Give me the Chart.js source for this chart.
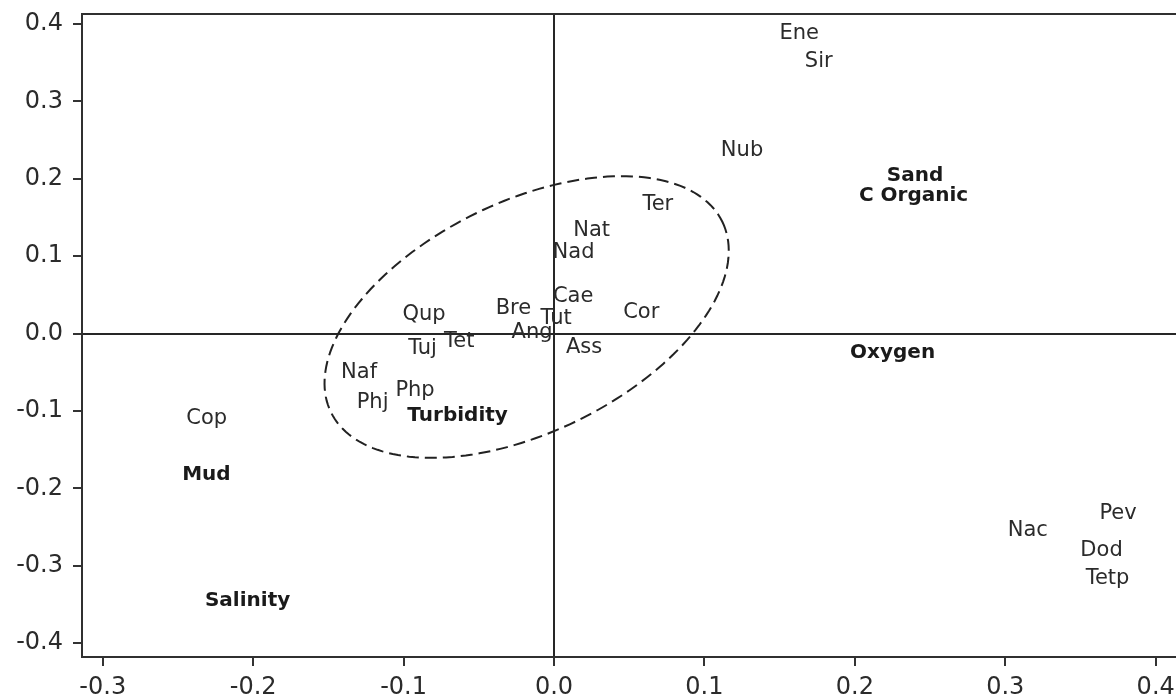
<!DOCTYPE html>
<html><head><meta charset="utf-8">
<script src="https://cdn.jsdelivr.net/npm/chart.js@4"></script>
<style>html,body{margin:0;padding:0;background:#fff;overflow:hidden}#wrap{width:1176px;height:700px}</style>
</head><body><div id="wrap"><canvas id="c" width="1176" height="700"></canvas></div>
<script>
// Species scores
const speciesNames = ['Ene','Sir','Nub','Ter','Nat','Nad','Cae','Cor','Bre','Tut','Ang','Ass','Qup','Tet','Tuj','Naf','Php','Phj','Cop','Nac','Pev','Dod','Tetp'];
const speciesX = [0.163,0.176,0.125,0.069,0.025,0.013,0.0127,0.058,-0.027,0.0014,-0.0146,0.020,-0.0864,-0.063,-0.0874,-0.1296,-0.0924,-0.1206,-0.2309,0.315,0.375,0.364,0.368];
const speciesY = [0.388,0.352,0.237,0.167,0.133,0.105,0.048,0.027,0.032,0.020,0.0014,-0.018,0.025,-0.010,-0.020,-0.050,-0.073,-0.089,-0.110,-0.254,-0.233,-0.280,-0.317];
// Environmental variables
const variableNames = ['Sand','C Organic','Oxygen','Turbidity','Mud','Salinity'];
const variableX = [0.240,0.239,0.2251,-0.0641,-0.2311,-0.2037];
const variableY = [0.204,0.178,-0.0244,-0.106,-0.183,-0.345];
// Axis ticks
const xTickValues = [-0.3,-0.2,-0.1,0,0.1,0.2,0.3,0.4];
const yTickValues = [-0.4,-0.3,-0.2,-0.1,0,0.1,0.2,0.3,0.4];
// Dashed group ellipse (data units: centre + conjugate semi-axis vectors)
const groupEllipse = {cx:-0.0182, cy:0.0214, ux:0.1301, uy:0.1231, vx:0.0336, vy:-0.1341};

const fmt = v => Number(v).toFixed(1);
const pts = (xs, ys) => xs.map((x,i)=>({x:x, y:ys[i]}));
const noPad = s => { s.paddingTop = 0; s.paddingBottom = 0; s.paddingLeft = 0; s.paddingRight = 0; };

const ellipsePlugin = {
  id:'ellipse',
  beforeDatasetsDraw(chart){
    const {ctx, scales:{x, y}} = chart;
    const e = groupEllipse;
    ctx.save();
    ctx.beginPath();
    const n = 180;
    for(let i=0;i<=n;i++){
      const t = i/n*2*Math.PI;
      const dx = e.cx + e.ux*Math.cos(t) + e.vx*Math.sin(t);
      const dy = e.cy + e.uy*Math.cos(t) + e.vy*Math.sin(t);
      const px = x.getPixelForValue(dx), py = y.getPixelForValue(dy);
      if(i===0) ctx.moveTo(px,py); else ctx.lineTo(px,py);
    }
    ctx.closePath();
    ctx.setLineDash([12,6]);
    ctx.lineWidth = 2;
    ctx.strokeStyle = '#222';
    ctx.stroke();
    ctx.restore();
  }
};

const labelPlugin = {
  id:'pointLabels',
  afterDatasetsDraw(chart){
    const {ctx} = chart;
    chart.data.datasets.forEach((ds, di)=>{
      const meta = chart.getDatasetMeta(di);
      ctx.save();
      ctx.font = ds.labelFont;
      ctx.fillStyle = ds.labelColor;
      ctx.textAlign = 'center';
      ctx.textBaseline = 'middle';
      meta.data.forEach((el, i)=>{
        ctx.fillText(ds.labels[i], el.x, el.y);
      });
      ctx.restore();
    });
  }
};

const tickFont = {family:'DejaVu Sans', size:24};
const zeroColor = c => (c.tick && Math.abs(c.tick.value) < 1e-9) ? '#262626' : 'rgba(0,0,0,0)';

new Chart(document.getElementById('c'), {
  type:'scatter',
  data:{datasets:[
    {label:'Species', data:pts(speciesX, speciesY), labels:speciesNames, labelFont:'21px "DejaVu Sans"', labelColor:'#2b2b2b', pointRadius:0},
    {label:'Variables', data:pts(variableX, variableY), labels:variableNames, labelFont:'bold 20px "DejaVu Sans"', labelColor:'#1a1a1a', pointRadius:0}
  ]},
  options:{
    responsive:false, animation:false, events:[],
    layout:{padding:0},
    plugins:{legend:{display:false}, tooltip:{enabled:false}},
    scales:{
      x:{type:'linear', position:'bottom', min:-0.3138, max:0.4135,
        afterBuildTicks: s => { s.ticks = xTickValues.map(v=>({value:v})); },
        afterFit: s => { s.height = 43; noPad(s); },
        ticks:{font:tickFont, color:'#2b2b2b', padding:7, callback:fmt, maxRotation:0, autoSkip:false, includeBounds:false},
        grid:{color:zeroColor, lineWidth:2, tickLength:9, tickColor:'#333', tickWidth:2},
        border:{display:true, color:'#303030', width:2}
      },
      x2:{type:'linear', position:'top', min:-0.3138, max:0.4135, display:true,
        afterFit: s => { s.height = 14; noPad(s); },
        ticks:{display:false}, grid:{display:false},
        border:{display:true, color:'#303030', width:2}
      },
      y:{type:'linear', position:'left', min:-0.418, max:0.413,
        afterBuildTicks: s => { s.ticks = yTickValues.map(v=>({value:v})); },
        afterFit: s => { s.width = 82; noPad(s); },
        ticks:{font:tickFont, color:'#2b2b2b', padding:10, callback:fmt, autoSkip:false, includeBounds:false},
        grid:{color:zeroColor, lineWidth:2, tickLength:9, tickColor:'#333', tickWidth:2},
        border:{display:true, color:'#303030', width:2}
      }
    }
  },
  plugins:[ellipsePlugin, labelPlugin]
});
</script></body></html>
